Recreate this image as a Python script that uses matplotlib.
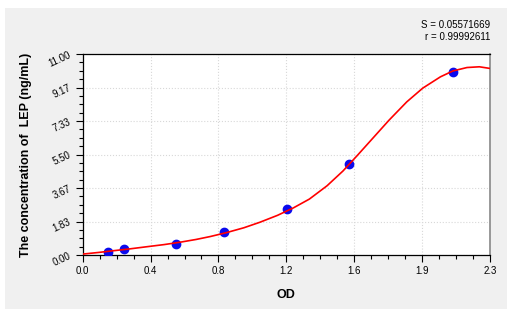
import matplotlib
matplotlib.use('Agg')
import matplotlib.pyplot as plt
import matplotlib.patches as mpatches
from matplotlib.ticker import AutoMinorLocator
import numpy as np

# --- Data ---
# standards: OD vs concentration
od = [0.141, 0.235, 0.525, 0.796, 1.152, 1.502, 2.091]
conc = [0.156, 0.312, 0.625, 1.25, 2.5, 5.0, 10.0]

# fitted curve
curve_x = [0.00, 0.09, 0.17, 0.27, 0.36, 0.46, 0.55, 0.64, 0.72, 0.81, 0.91,
           1.00, 1.10, 1.19, 1.28, 1.38, 1.47, 1.55, 1.64, 1.73, 1.83, 1.92,
           2.02, 2.09, 2.17, 2.24, 2.30]
curve_y = [0.05, 0.14, 0.23, 0.34, 0.45, 0.57, 0.70, 0.85, 1.01, 1.22, 1.49,
           1.79, 2.17, 2.58, 3.06, 3.79, 4.60, 5.44, 6.41, 7.38, 8.38, 9.13,
           9.75, 10.07, 10.26, 10.30, 10.21]

x_ticklabels = ['0.0', '0.4', '0.8', '1.2', '1.6', '1.9', '2.3']
y_ticklabels = ['0.00', '1.83', '3.67', '5.50', '7.33', '9.17', '11.00']
stats = ['S = 0.05571669', 'r = 0.99992611']

plt.rcParams['font.family'] = ['Liberation Sans', 'DejaVu Sans']

fig = plt.figure(figsize=(5.12, 3.12), dpi=100)
fig.patch.set_facecolor('white')
# grey panel behind everything
fig.patches.append(mpatches.Rectangle((5 / 512, 1 - 309 / 312), 502 / 512, 301 / 312,
                                      transform=fig.transFigure, facecolor='#f0f0f0',
                                      edgecolor='none', zorder=-10))

ax = fig.add_axes([82.7 / 512, 1 - 255 / 312, (490 - 82.7) / 512, (255 - 54) / 312])
ax.set_facecolor('white')

ax.plot(curve_x, curve_y, color='#ff0000', linewidth=1.2, zorder=4,
        solid_joinstyle='round')
ax.plot(od, conc, 'o', color='#0a0aee', markersize=6, zorder=3)

ax.set_xlim(0, 2.3)
ax.set_ylim(0, 11)
ax.set_xticks(np.linspace(0, 2.3, len(x_ticklabels)))
ax.set_xticklabels(x_ticklabels, fontsize=7)
ax.set_yticks(np.linspace(0, 11, len(y_ticklabels)))
ax.set_yticklabels(y_ticklabels, fontsize=7, rotation=25, ha='right', va='center',
                   rotation_mode='anchor')
ax.xaxis.set_minor_locator(AutoMinorLocator(4))
ax.yaxis.set_minor_locator(AutoMinorLocator(4))
ax.tick_params(which='major', length=5, width=0.8, direction='out', pad=3)
ax.tick_params(which='minor', length=3, width=0.8, direction='out')
ax.tick_params(axis='y', pad=4)

ax.grid(True, which='major', color='#d8d8d8', linestyle=':', linewidth=0.8)
ax.set_axisbelow(True)

for s in ['left', 'bottom', 'top']:
    ax.spines[s].set_linewidth(0.9)
    ax.spines[s].set_color('black')
ax.spines['right'].set_color('#888888')
ax.spines['right'].set_linewidth(1.2)

ax.set_xlabel('OD', fontsize=9, fontweight='bold', labelpad=9)
ax.set_ylabel('The concentration of  LEP (ng/mL)', fontsize=9, fontweight='bold',
              labelpad=11)

fig.text(490 / 512, 1 - 25 / 312, stats[0], ha='right', va='center', fontsize=7)
fig.text(490 / 512, 1 - 37 / 312, stats[1], ha='right', va='center', fontsize=7)

plt.savefig('out.png', dpi=100, facecolor='white')
plt.close()
